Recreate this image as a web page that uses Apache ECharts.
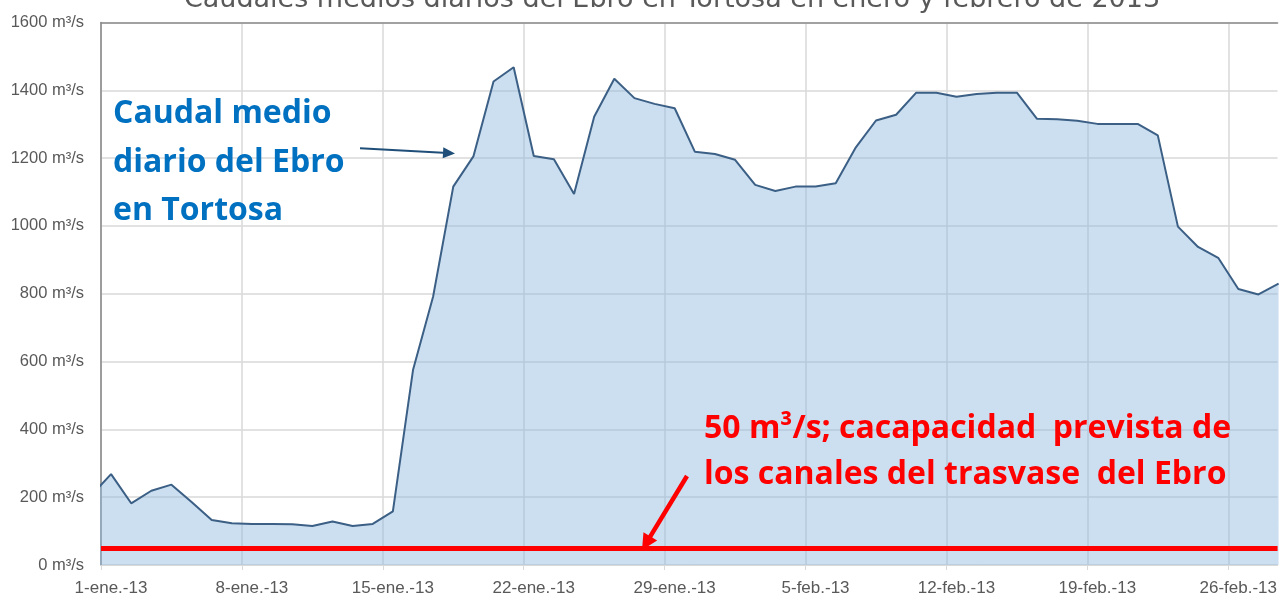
<!DOCTYPE html>
<html>
<head>
<meta charset="utf-8">
<script src="https://cdn.jsdelivr.net/npm/echarts@6/dist/echarts.min.js"></script>
<style>
html,body{margin:0;padding:0;background:#fff;}
#chart{width:1280px;height:597px;}
</style>
</head>
<body>
<div id="chart"></div>
<script>
// Daily mean flow (m3/s), 31-dic-2012 .. 28-feb-2013
const caudal = [
  204,
  268, 182, 219, 237, 186, 133, 123, 121, 121, 120, 115, 128, 115, 121,
  158, 575, 792, 1116, 1205, 1426, 1468, 1206, 1197, 1094, 1322, 1434, 1377, 1360,
  1347, 1219, 1212, 1195, 1121, 1103, 1116, 1116, 1126, 1232, 1311, 1328, 1393, 1393,
  1381, 1389, 1393, 1393, 1316, 1315, 1310, 1301, 1301, 1301, 1267, 998, 938, 906,
  814, 798, 830
];
const xTickLabels = ['1-ene.-13','8-ene.-13','15-ene.-13','22-ene.-13','29-ene.-13','5-feb.-13','12-feb.-13','19-feb.-13','26-feb.-13'];
const yTicks = [0, 200, 400, 600, 800, 1000, 1200, 1400, 1600];
const capacidadTrasvase = 50;
const titleText = 'Caudales medios diarios del Ebro en Tortosa en enero y febrero de 2013';
const noteCaudal = 'Caudal medio\ndiario del Ebro\nen Tortosa';
const noteTrasvase = '50 m³/s; cacapacidad  prevista de\nlos canales del trasvase  del Ebro';

// series points: day offset from 1-ene (index 0 = 31-dic), placed mid-day
const seriesData = caudal.map((v, i) => [i - 0.5, v]);

// annotation arrow drawn as one filled polygon (shaft + head)
function arrow(x1, y1, x2, y2, color, w, headL, headW) {
  const dx = x2 - x1, dy = y2 - y1, L = Math.hypot(dx, dy);
  const ux = dx / L, uy = dy / L, px = -uy, py = ux;
  const bx = x2 - ux * headL, by = y2 - uy * headL;
  const h = w / 2, hw = headW / 2;
  return {
    type: 'polygon', z: 10,
    shape: {points: [
      [x1 + px * h, y1 + py * h], [bx + px * h, by + py * h], [bx + px * hw, by + py * hw],
      [x2, y2],
      [bx - px * hw, by - py * hw], [bx - px * h, by - py * h], [x1 - px * h, y1 - py * h]
    ]},
    style: {fill: color, opacity: 1}
  };
}

const axisFont = "'Liberation Sans', Arial, sans-serif";
const noteFont = "'Open Sans', Lato, sans-serif";
const chart = echarts.init(document.getElementById('chart'));
chart.setOption({
  animation: false,
  backgroundColor: '#ffffff',
  title: {
    text: titleText,
    left: 667, top: -19, textAlign: 'center',
    textStyle: {fontFamily: "'DejaVu Sans', sans-serif", fontSize: 27, fontWeight: 'normal', color: '#595959'}
  },
  grid: {left: 101, top: 22.5, right: 0, height: 542.5, containLabel: false},
  xAxis: [{
    type: 'value', min: 0, max: 58.45, interval: 7,
    axisLine: {show: true, lineStyle: {color: '#d9d9d9', width: 1}},
    axisTick: {show: true, length: 5, lineStyle: {color: '#d9d9d9'}},
    splitLine: {show: true, showMaxLine: false, lineStyle: {color: '#d9d9d9', width: 1.5}},
    axisLabel: {
      formatter: v => (v % 7 === 0 && xTickLabels[v / 7]) ? xTickLabels[v / 7] : '',
      color: '#595959', fontFamily: axisFont, fontSize: 17, margin: 15,
      padding: [0, 0, 0, 20], showMaxLabel: false
    }
  }, {
    type: 'value', position: 'top', min: 0, max: 58.45,
    axisLine: {show: true, lineStyle: {color: '#8c8c8c', width: 1.5}},
    axisTick: {show: false}, axisLabel: {show: false}, splitLine: {show: false}
  }],
  yAxis: {
    type: 'value', min: yTicks[0], max: yTicks[yTicks.length - 1], interval: 200,
    axisLine: {show: true, lineStyle: {color: '#868686', width: 1.5}},
    axisTick: {show: false},
    splitLine: {show: true, lineStyle: {color: '#d9d9d9', width: 1.5}},
    axisLabel: {formatter: v => v + ' m³/s', color: '#595959', fontFamily: axisFont, fontSize: 16.5, margin: 17}
  },
  series: [{
    type: 'line',
    data: seriesData,
    symbol: 'none',
    clip: true,
    z: 1,
    lineStyle: {color: '#3b5f85', width: 2},
    areaStyle: {color: 'rgba(140,185,225,0.45)', opacity: 1, origin: 'start'},
    markLine: {
      silent: true, symbol: 'none', animation: false,
      label: {show: false},
      lineStyle: {color: '#ff0000', width: 5, type: 'solid', opacity: 1},
      data: [{yAxis: capacidadTrasvase}]
    }
  }],
  graphic: [
    {type: 'text', left: 113, top: 90, z: 10,
     style: {text: noteCaudal, fontFamily: noteFont, fontWeight: 'bold', fontSize: 32, lineHeight: 48.5, fill: '#0070c0'}},
    {type: 'text', left: 704, top: 406, z: 10,
     style: {text: noteTrasvase, fontFamily: noteFont, fontWeight: 'bold', fontSize: 32, lineHeight: 46, fill: '#ff0000'}},
    arrow(360, 148.3, 455, 153.5, '#1f4e79', 2, 12, 11),
    arrow(687, 476, 642, 550, '#ff0000', 4.5, 16, 16)
  ]
});
</script>
</body>
</html>
